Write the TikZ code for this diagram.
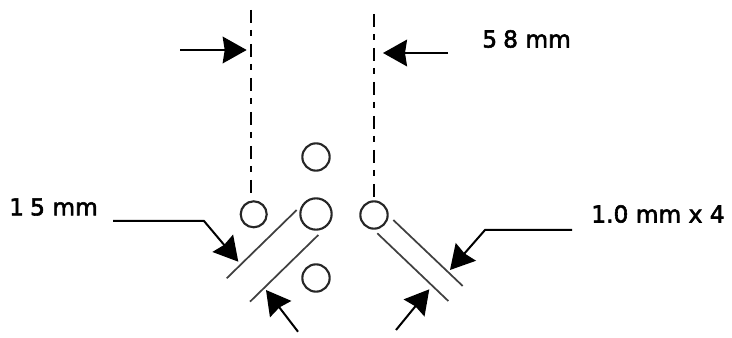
\documentclass[tikz,border=0pt]{standalone}
\usepackage{fontspec}
\setmainfont[FakeBold=2.4]{DejaVu Sans}
\usetikzlibrary{arrows.meta}
\tikzset{
  x=0.75pt,y=-0.75pt,
  hole/.style={circle,draw=black!85,line width=1.6pt,inner sep=0pt,fill=none},
  dim/.style={line width=1.5pt,black,-{Stealth[length=18pt,width=20pt,inset=1.5pt]}},
  edge line/.style={line width=1.3pt,black!75},
  axis/.style={line width=1.4pt,black,dash pattern=on 9.5pt off 5.5pt on 4.5pt off 6pt},
  lbl/.style={font=\fontsize{17.5pt}{20pt}\selectfont,inner sep=0pt,text=black}
}
\begin{document}
\begin{tikzpicture}
\useasboundingbox (0,0) rectangle (732,338);
% holes
\node[hole,minimum size=19.5pt] (c1) at (253.7,214.3) {};
\node[hole,minimum size=20.5pt] (c2) at (316,157) {};
\node[hole,minimum size=23.5pt] (c3) at (316,214) {};
\node[hole,minimum size=20.5pt] (c4) at (316,278) {};
\node[hole,minimum size=20.5pt] (c5) at (374,215) {};
% axis lines
\coordinate (a1) at (251,10);
\coordinate (a2) at (374,14);
\draw[axis] (a1) -- (251,198) coordinate (a1e);
\draw[axis] (a2) -- (c5.north);
% edges
\coordinate (l1a) at (226.7,278.3); \coordinate (l1b) at (296.7,210);
\coordinate (l2a) at (250,301.7);   \coordinate (l2b) at (318.3,235);
\coordinate (r1a) at (393.3,220);   \coordinate (r1b) at (462.7,286);
\coordinate (r2a) at (377.3,233.3); \coordinate (r2b) at (448.3,301);
\draw[edge line] (l1a) -- (l1b);
\draw[edge line] (l2a) -- (l2b);
\draw[edge line] (r1a) -- (r1b);
\draw[edge line] (r2a) -- (r2b);
% labels
\node[lbl,anchor=west] (t58) at (482,39) {5\hspace{0.26em}8 mm};
\node[lbl,anchor=west] (t15) at (9,207) {1\hspace{0.26em}5 mm};
\node[lbl,anchor=west] (t10) at (591,214) {1.0 mm x 4};
% dimension arrows
\coordinate (s1) at (180,50); \coordinate (e1) at (246.7,50);
\coordinate (s2) at (448,53); \coordinate (e2) at (383,53);
\draw[dim] (s1) -- (e1);
\draw[dim] (s2) -- (e2);
\coordinate (s3) at (113,221); \coordinate (m3) at (204,221); \coordinate (e3) at (238.3,261.7);
\draw[dim] (s3) -- (m3) -- (e3);
\coordinate (s4) at (572,230); \coordinate (m4) at (485,230); \coordinate (e4) at (450,270);
\draw[dim] (s4) -- (m4) -- (e4);
\coordinate (s5) at (298,331.7); \coordinate (e5) at (266,290);
\draw[dim] (s5) -- (e5);
\coordinate (s6) at (396,330); \coordinate (e6) at (429.3,289.3);
\draw[dim] (s6) -- (e6);
\end{tikzpicture}
\end{document}
